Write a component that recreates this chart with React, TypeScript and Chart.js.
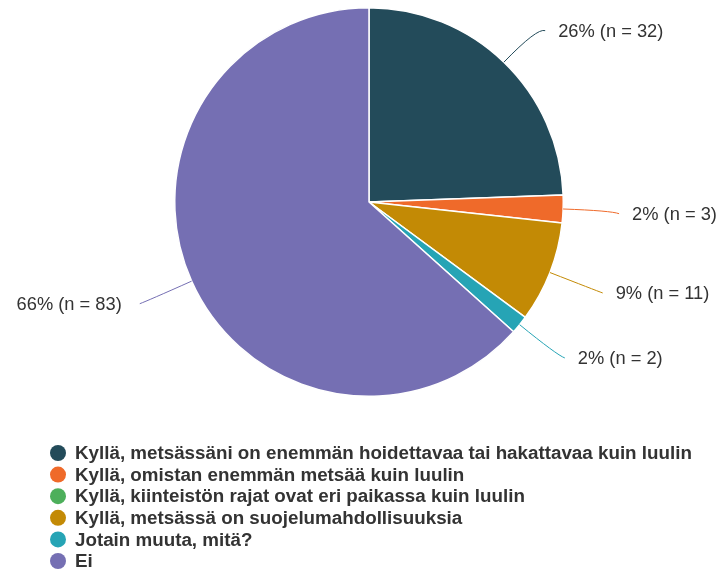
import React, { useEffect, useRef } from "react";
import { Chart, registerables } from "chart.js";

Chart.register(...registerables);

const categories = [
  "Kyllä, metsässäni on enemmän hoidettavaa tai hakattavaa kuin luulin",
  "Kyllä, omistan enemmän metsää kuin luulin",
  "Kyllä, kiinteistön rajat ovat eri paikassa kuin luulin",
  "Kyllä, metsässä on suojelumahdollisuuksia",
  "Jotain muuta, mitä?",
  "Ei",
];
const counts = [32, 3, 0, 11, 2, 83];
const percentLabels = ["26%", "2%", "0%", "9%", "2%", "66%"];
const colors = ["#234B5A", "#EF6A2A", "#4DAF5B", "#C38A05", "#26A4B5", "#756FB3"];

const W = 720;
const H = 571;

const labelPlugin = {
  id: "outLabels",
  afterDraw(chart: any) {
    const ctx = chart.ctx as CanvasRenderingContext2D;
    const meta = chart.getDatasetMeta(0);
    ctx.save();
    meta.data.forEach((arc: any, i: number) => {
      if (!counts[i]) return;
      const p = arc.getProps(["x", "y", "startAngle", "endAngle", "outerRadius"], true);
      const mid = (p.startAngle + p.endAngle) / 2;
      const c = Math.cos(mid);
      const s = Math.sin(mid);
      const r = p.outerRadius;
      const dir = c >= 0 ? 1 : -1;
      const sx = p.x + c * r;
      const sy = p.y + s * r;
      const px = p.x + c * (r + 48);
      const py = p.y + s * (r + 48);
      const ex = px + dir * 8;
      const ey = py + 3;
      ctx.strokeStyle = colors[i];
      ctx.lineWidth = 1;
      ctx.beginPath();
      ctx.moveTo(sx, sy);
      ctx.quadraticCurveTo(px, py, ex, ey);
      ctx.stroke();
      ctx.font = "18.3px 'Liberation Sans', Arial, sans-serif";
      ctx.fillStyle = "#333333";
      ctx.textBaseline = "middle";
      ctx.textAlign = dir > 0 ? "left" : "right";
      const gap = dir > 0 ? 13 : 18;
      ctx.fillText(`${percentLabels[i]} (n = ${counts[i]})`, ex + dir * gap, ey + 1);
    });

    // legend
    const lx = 58;
    const ly0 = chart.chartArea.bottom + 56;
    const step = 21.6;
    categories.forEach((label, i) => {
      const y = ly0 + i * step;
      ctx.fillStyle = colors[i];
      ctx.beginPath();
      ctx.arc(lx, y, 8, 0, Math.PI * 2);
      ctx.fill();
      ctx.font = "bold 18.8px 'Liberation Sans', Arial, sans-serif";
      ctx.fillStyle = "#333333";
      ctx.textAlign = "left";
      ctx.textBaseline = "middle";
      ctx.fillText(label, lx + 17, y + 1);
    });
    ctx.restore();
  },
};

export default function App() {
  const ref = useRef<HTMLCanvasElement | null>(null);
  useEffect(() => {
    if (!ref.current) return;
    const chart = new Chart(ref.current, {
      type: "pie",
      data: {
        labels: categories,
        datasets: [
          {
            data: counts,
            backgroundColor: colors,
            borderColor: "#ffffff",
            borderWidth: 1.5,
          },
        ],
      },
      options: {
        responsive: false,
        animation: false,
        devicePixelRatio: 1,
        layout: { padding: { left: 174, right: 156, top: 7, bottom: 174 } },
        plugins: {
          legend: { display: false },
          tooltip: { enabled: false },
        },
      },
      plugins: [labelPlugin],
    });
    return () => chart.destroy();
  }, []);
  return (
    <div style={{ position: "fixed", left: 0, top: 0, width: W, height: H, background: "#fff" }}>
      <canvas ref={ref} width={W} height={H} style={{ width: W, height: H }} />
    </div>
  );
}
